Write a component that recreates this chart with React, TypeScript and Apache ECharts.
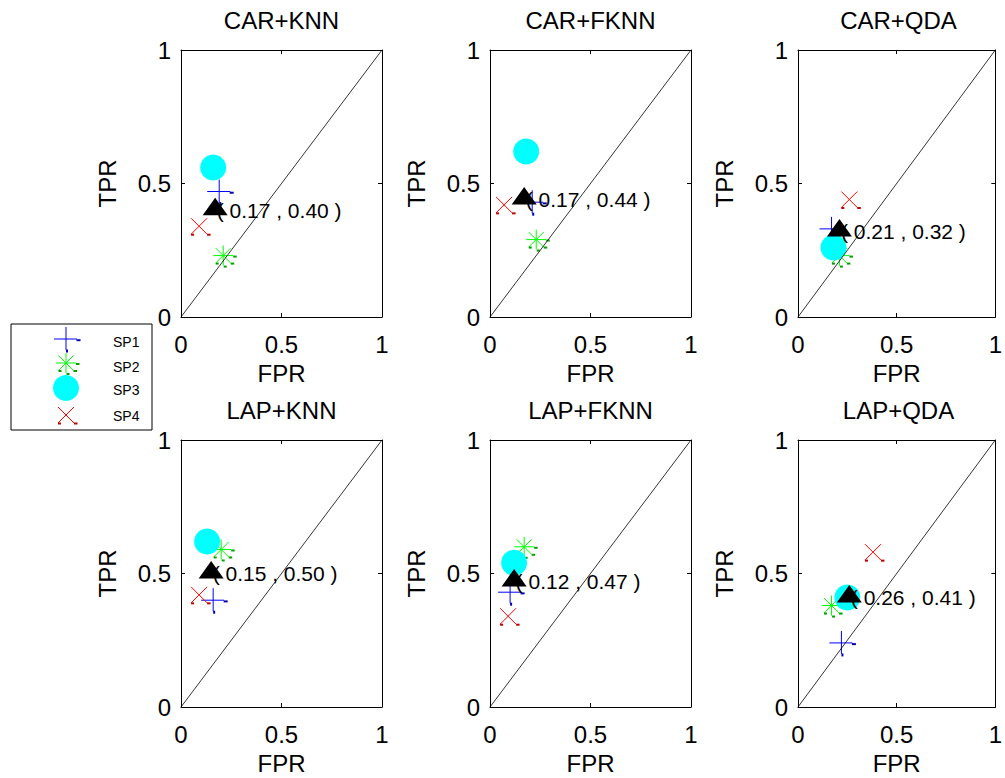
import React, { useEffect, useRef } from 'react';
import * as echarts from 'echarts';

// Subplot titles (row-major, 2 rows x 3 columns)
const panelTitles = ['CAR+KNN', 'CAR+FKNN', 'CAR+QDA', 'LAP+KNN', 'LAP+FKNN', 'LAP+QDA'];

// Per-speaker operating points (FPR, TPR), one value per panel
const sp1FPR = [0.19, 0.21, 0.17, 0.16, 0.10, 0.22];
const sp1TPR = [0.47, 0.43, 0.33, 0.40, 0.43, 0.24];
const sp2FPR = [0.21, 0.23, 0.21, 0.20, 0.17, 0.17];
const sp2TPR = [0.23, 0.29, 0.23, 0.59, 0.60, 0.38];
const sp3FPR = [0.16, 0.18, 0.18, 0.13, 0.12, 0.25];
const sp3TPR = [0.56, 0.62, 0.26, 0.62, 0.54, 0.41];
const sp4FPR = [0.09, 0.07, 0.26, 0.09, 0.09, 0.38];
const sp4TPR = [0.34, 0.42, 0.44, 0.42, 0.34, 0.58];

// Mean operating point per panel (annotated)
const meanFPR = [0.17, 0.17, 0.21, 0.15, 0.12, 0.26];
const meanTPR = [0.40, 0.44, 0.32, 0.50, 0.47, 0.41];

// Chance line
const diagonal = [[0, 0], [1, 1]];

const speakerNames = ['SP1', 'SP2', 'SP3', 'SP4'];
const speakerFPR = [sp1FPR, sp2FPR, sp3FPR, sp4FPR];
const speakerTPR = [sp1TPR, sp2TPR, sp3TPR, sp4TPR];

const FONT = '"Liberation Sans", Arial, Helvetica, sans-serif';

// Layout of the subplot grid
const colLeft = [181, 490, 798];
const rowTop = [50, 440];
const plotW = 201;
const plotH = 267;

type Seg = [number, number, number, number];

function strokes(segs: Seg[], color: string, width: number) {
  return segs.map((s) => ({
    type: 'line',
    shape: { x1: s[0], y1: s[1], x2: s[2], y2: s[3] },
    style: { stroke: color, lineWidth: width, fill: null },
  }));
}

// Marker glyphs drawn around (0, 0)
function markerChildren(kind: number): any[] {
  if (kind === 0) {
    // plus, blue
    return [
      ...strokes([[-12, 0, 11, 0], [0, -12, 0, 11]], '#0000ff', 1),
      ...strokes([[10.5, 1.2, 14.5, 1.2], [1, 10.5, 1, 13.5]], '#0000b0', 2),
    ];
  }
  if (kind === 1) {
    // asterisk, green
    return [
      ...strokes(
        [[-10, 0, 10, 0], [0, -10, 0, 10], [-7.5, -7.5, 7.5, 7.5], [7.5, -7.5, -7.5, 7.5]],
        '#00ff00',
        1
      ),
      ...strokes(
        [[10, 1, 13.5, 1], [7.5, 8, 11, 8], [0.5, 11, 3.5, 11], [-7.5, 8, -4.5, 8]],
        '#00a000',
        2
      ),
    ];
  }
  if (kind === 2) {
    // filled circle, cyan
    return [{ type: 'circle', shape: { cx: 0, cy: 0, r: 13 }, style: { fill: '#00ffff', stroke: null } }];
  }
  if (kind === 3) {
    // cross, red
    return [
      ...strokes([[-8, -8, 8, 8], [8, -8, -8, 8]], '#ff0000', 1),
      ...strokes([[8, 8.5, 11.5, 8.5], [-8, 8.5, -5, 8.5]], '#c00000', 2),
    ];
  }
  // filled triangle, black
  return [
    {
      type: 'polygon',
      shape: { points: [[0, -12.5], [12.5, 5], [-12.5, 5]] },
      style: { fill: '#000', stroke: null },
    },
  ];
}

function axisCommon(gridIndex: number) {
  return {
    type: 'value',
    gridIndex,
    min: 0,
    max: 1,
    interval: 0.5,
    splitLine: { show: false },
    axisLine: { show: true, onZero: false, lineStyle: { color: '#000', width: 1 } },
    axisTick: { show: true, inside: true, length: 4, lineStyle: { color: '#000', width: 1 } },
  };
}

function buildOption() {
  const grid: any[] = [];
  const xAxis: any[] = [];
  const yAxis: any[] = [];
  const series: any[] = [];
  const graphic: any[] = [];

  panelTitles.forEach((title, i) => {
    const col = i % 3;
    const row = Math.floor(i / 3);
    grid.push({ left: colLeft[col], top: rowTop[row], width: plotW, height: plotH, show: false });

    xAxis.push({
      ...axisCommon(i),
      position: 'bottom',
      name: 'FPR',
      nameLocation: 'middle',
      nameGap: 44,
      nameTextStyle: { fontSize: 24, color: '#000', fontFamily: FONT },
      axisLabel: { fontSize: 24, color: '#000', margin: 15, fontFamily: FONT },
    });
    xAxis.push({ ...axisCommon(i), position: 'top', axisLabel: { show: false } });

    yAxis.push({
      ...axisCommon(i),
      position: 'left',
      name: 'TPR',
      nameLocation: 'middle',
      nameGap: 62,
      nameTextStyle: { fontSize: 24, color: '#000', fontFamily: FONT },
      axisLabel: { fontSize: 24, color: '#000', margin: 10, fontFamily: FONT },
    });
    yAxis.push({ ...axisCommon(i), position: 'right', axisLabel: { show: false } });

    const xi = 2 * i;
    const yi = 2 * i;

    series.push({
      type: 'line',
      xAxisIndex: xi,
      yAxisIndex: yi,
      data: diagonal,
      symbol: 'none',
      silent: true,
      lineStyle: { color: '#000', width: 0.8 },
    });

    speakerNames.forEach((name, k) => {
      series.push({
        type: 'custom',
        name,
        xAxisIndex: xi,
        yAxisIndex: yi,
        clip: false,
        silent: true,
        data: [[speakerFPR[k][i], speakerTPR[k][i]]],
        renderItem: (_params: any, api: any) => {
          const p = api.coord([api.value(0), api.value(1)]);
          return { type: 'group', x: p[0], y: p[1], children: markerChildren(k) };
        },
      });
    });

    series.push({
      type: 'custom',
      name: 'mean',
      xAxisIndex: xi,
      yAxisIndex: yi,
      clip: false,
      silent: true,
      data: [[meanFPR[i], meanTPR[i]]],
      renderItem: (_params: any, api: any) => {
        const fx = api.value(0);
        const fy = api.value(1);
        const p = api.coord([fx, fy]);
        return {
          type: 'group',
          x: p[0],
          y: p[1],
          children: [
            ...markerChildren(4),
            {
              type: 'text',
              x: 1.5,
              y: 0,
              style: {
                text: `( ${fx.toFixed(2)} , ${fy.toFixed(2)} )`,
                fontSize: 21,
                fontFamily: FONT,
                fill: '#000',
                align: 'left',
                verticalAlign: 'middle',
                textAlign: 'left',
                textVerticalAlign: 'middle',
              },
            },
          ],
        };
      },
    });

    graphic.push({
      type: 'text',
      x: colLeft[col] + plotW / 2,
      y: rowTop[row] - 42,
      style: {
        text: title,
        fontSize: 24,
        fontFamily: FONT,
        fill: '#000',
        align: 'center',
        verticalAlign: 'top',
        textAlign: 'center',
        textVerticalAlign: 'top',
      },
    });
  });

  // Legend box
  const markerYs = [339, 363, 388, 415];
  const textYs = [342, 367, 390, 416];
  const legendChildren: any[] = [
    { type: 'rect', shape: { x: 11, y: 324, width: 141, height: 106 }, style: { fill: '#fff', stroke: '#000', lineWidth: 1 } },
  ];
  speakerNames.forEach((name, k) => {
    legendChildren.push({ type: 'group', x: 66, y: markerYs[k], children: markerChildren(k) });
    legendChildren.push({
      type: 'text',
      x: 113,
      y: textYs[k],
      style: {
        text: name,
        fontSize: 14,
        fontFamily: FONT,
        fill: '#000',
        align: 'left',
        verticalAlign: 'middle',
        textAlign: 'left',
        textVerticalAlign: 'middle',
      },
    });
  });
  graphic.push({ type: 'group', z: 100, children: legendChildren });

  return {
    animation: false,
    backgroundColor: '#fff',
    grid,
    xAxis,
    yAxis,
    series,
    graphic,
  };
}

export default function App() {
  const ref = useRef<HTMLDivElement>(null);
  useEffect(() => {
    if (!ref.current) return;
    const chart = echarts.init(ref.current, null, { renderer: 'svg' });
    chart.setOption(buildOption() as any);
    return () => chart.dispose();
  }, []);
  return (
    <div
      ref={ref}
      style={{ position: 'fixed', left: 0, top: 0, width: 1005, height: 778, background: '#fff' }}
    />
  );
}
